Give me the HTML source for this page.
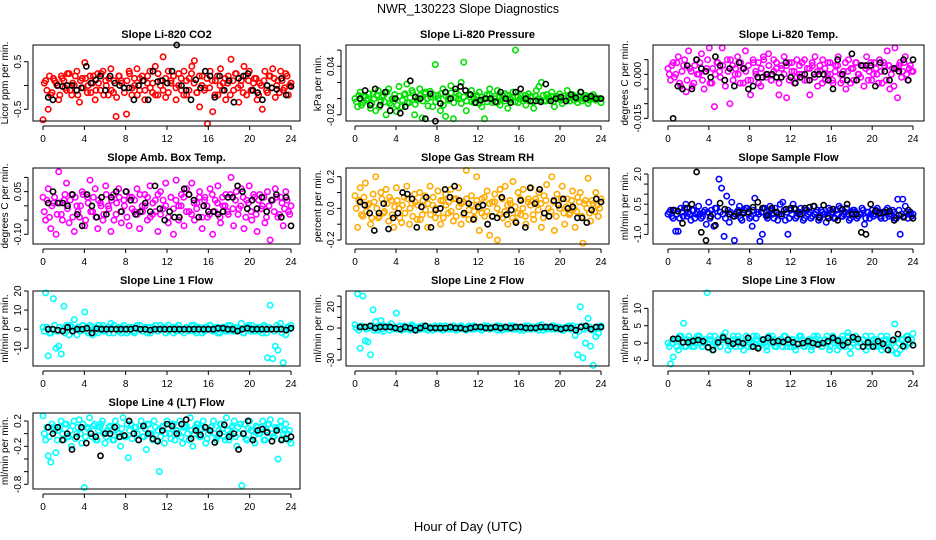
<!DOCTYPE html>
<html><head><meta charset="utf-8"><title>NWR_130223 Slope Diagnostics</title>
<style>
html,body{margin:0;padding:0;background:#fff;}
svg{display:block;font-family:"Liberation Sans",Arial,sans-serif;}
</style></head>
<body>
<svg id="chart" width="936" height="540" viewBox="0 0 936 540" xmlns="http://www.w3.org/2000/svg">
<rect x="0" y="0" width="936" height="540" fill="#fff"/>
<text x="468" y="13" text-anchor="middle" font-size="12.5">NWR_130223  Slope Diagnostics</text>
<text x="468" y="531" text-anchor="middle" font-size="13">Hour of Day (UTC)</text>
</svg>
<script>
const xTicks = [0,4,8,12,16,20,24];

const co2Vals = [-0.72,0.1,-0.5,-0.2,0.15,0.05,-0.3,0.2,0.1,-0.1,0.25,-0.2,0.0,0.3,-0.35,0.15,0.48,-0.15,0.2,0.05,-0.3,0.25,-0.1,0.3,0.1,-0.2,0.35,-0.15,-0.65,0.2,0.1,-0.05,-0.6,0.3,-0.2,0.15,0.35,-0.1,0.2,-0.3,0.05,0.3,-0.15,0.4,-0.2,0.1,0.6,-0.25,0.3,0.05,0.2,-0.3,0.25,-0.1,0.3,-0.2,0.15,0.4,0.52,-0.15,-0.45,0.2,-0.05,-0.8,0.3,-0.55,0.1,-0.2,0.35,0.05,-0.3,0.2,0.55,-0.1,0.25,-0.35,0.1,0.4,-0.2,0.3,-0.1,0.15,-0.3,0.05,-0.5,0.3,-0.15,0.2,0.35,-0.25,0.1,0.3,-0.1,0.25,-0.2,0.05];
const co2Vals2 = [0.05,-0.1,0.2,-0.15,0.1,0.0,-0.2,0.15,-0.05,0.25,-0.1,0.05,0.2,-0.2,0.1,-0.05,0.15,0.0,-0.15,0.2,-0.1,0.05,0.25,-0.2,0.0,0.15,-0.1,0.1,-0.25,0.2,0.05,-0.15,0.1,0.25,-0.05,0.0,-0.2,0.15,0.1,-0.1,0.2,-0.05,0.05,-0.2,0.25,0.0,-0.1,0.15,-0.15,0.1,0.2,-0.05,0.0,0.15,-0.2,0.1,-0.1,0.25,0.05,-0.15,0.2,0.0,-0.1,0.15,-0.05,0.1,-0.2,0.2,0.0,-0.1,0.15,0.05,-0.2,0.1,0.25,-0.05,0.0,-0.15,0.2,0.1,-0.1,0.05,0.15,-0.2,0.0,0.1,-0.1,0.2,-0.05,0.15,0.0,-0.15,0.1,-0.05,0.2,0.0];
const co2Black = [-0.25,-0.3,0.0,-0.02,0.0,0.0,-0.1,-0.05,0.4,0.05,0.12,0.2,-0.1,0.2,0.05,0.0,-0.05,-0.05,-0.3,0.0,0.1,-0.3,0.3,0.08,0.1,0.05,0.3,0.85,0.0,-0.1,-0.3,0.12,-0.05,0.3,0.2,-0.25,0.2,-0.1,0.1,-0.35,0.15,0.2,0.25,-0.1,-0.15,-0.3,0.0,-0.05,-0.08,0.15,-0.2,-0.02];

const presVals = [0.0,-0.01,0.008,-0.005,0.003,0.0,-0.012,0.006,-0.015,0.01,-0.003,0.004,-0.02,0.012,-0.008,0.0,-0.016,0.015,-0.01,0.005,0.018,-0.005,0.01,-0.02,-0.002,0.012,-0.024,0.006,0.0,0.009,-0.01,0.042,0.004,-0.015,0.012,-0.022,0.0,0.016,-0.025,0.008,0.0,0.02,0.045,-0.015,0.005,0.01,-0.005,0.002,0.008,-0.01,-0.025,0.005,0.012,-0.005,0.0,0.01,-0.008,0.004,0.006,-0.012,0.0,0.008,0.06,-0.005,0.004,0.0,-0.008,0.006,0.003,-0.012,0.01,0.015,0.02,-0.003,0.005,0.0,0.008,-0.01,0.003,0.006,-0.006,0.0,0.01,-0.003,0.005,0.002,-0.005,0.008,0.0,0.004,-0.006,0.002,0.005,-0.002,0.0,-0.005];
const presVals2 = [-0.004,0.004,-0.008,0.002,-0.002,0.006,-0.006,0.0,0.004,-0.01,0.002,-0.004,0.008,-0.006,0.0,0.005,-0.008,0.003,-0.002,0.006,-0.005,0.001,0.007,-0.007,0.0,0.004,-0.003,0.008,-0.009,0.002,0.005,-0.004,0.0,0.006,-0.008,0.003,-0.002,0.007,-0.005,0.001,0.004,-0.006,0.002,-0.003,0.006,-0.004,0.0,0.004,-0.006,0.002,0.0,-0.004,0.005,-0.002,0.003,-0.005,0.002,0.0,-0.003,0.004,-0.002,0.001,-0.004,0.003,0.0,-0.003,0.004,-0.001,0.002,-0.004,0.003,0.0,-0.002,0.004,-0.003,0.001,0.003,-0.004,0.002,0.0,-0.002,0.003,-0.003,0.001,0.002,-0.002,0.0,0.003,-0.003,0.001,0.002,-0.002,0.0,0.002,-0.001,0.0];
const presBlack = [0.0,0.01,-0.008,0.012,-0.008,0.008,-0.015,0.0,-0.018,-0.01,0.022,0.002,0.0,-0.025,0.006,-0.028,-0.006,0.008,0.0,0.012,0.015,0.01,0.005,-0.005,-0.002,0.0,0.0,-0.004,0.008,0.0,-0.005,0.008,0.012,0.0,-0.003,-0.003,-0.004,0.018,-0.003,0.0,0.002,-0.003,0.005,0.001,0.008,0.0,0.003,0.0,0.0];

const tempVals = [0.002,-0.002,0.004,0.0,0.006,-0.004,0.003,-0.006,0.008,0.001,-0.003,0.005,0.0,0.007,-0.005,0.002,0.009,-0.003,-0.011,0.004,0.001,0.009,-0.002,0.005,-0.01,0.003,0.0,0.006,-0.003,0.002,0.008,-0.002,-0.007,0.005,0.001,0.004,-0.004,0.006,0.0,0.007,-0.002,0.005,0.002,-0.007,0.003,0.006,-0.008,0.004,0.001,-0.003,0.005,0.0,0.004,-0.002,0.002,-0.007,0.003,0.006,-0.004,0.001,0.005,-0.002,0.004,0.0,-0.003,0.003,0.006,-0.003,0.001,-0.005,0.005,0.002,-0.002,0.004,0.0,0.003,-0.004,0.006,0.001,-0.002,0.004,0.0,0.005,-0.003,0.003,0.008,-0.005,0.002,0.009,-0.008,0.004,0.001,0.006,-0.002,0.003,0.001];
const tempVals2 = [0.0,0.003,-0.001,0.004,-0.003,0.001,0.005,-0.002,0.002,-0.004,0.003,0.0,0.004,-0.002,0.001,0.005,-0.003,0.002,0.0,0.004,-0.001,0.003,-0.004,0.001,0.005,-0.002,0.002,0.0,0.004,-0.003,0.001,0.003,-0.002,0.004,0.0,-0.003,0.002,0.005,-0.001,0.003,-0.002,0.001,0.004,-0.003,0.002,0.0,0.003,-0.002,0.004,0.001,-0.001,0.003,0.0,0.005,-0.002,0.002,0.004,-0.001,0.001,0.003,-0.003,0.002,0.0,0.004,-0.002,0.001,0.003,0.0,-0.002,0.004,0.001,-0.003,0.002,0.004,0.0,-0.001,0.003,0.002,-0.002,0.004,0.0,0.002,-0.003,0.001,0.004,-0.002,0.003,0.0,-0.004,0.002,0.003,-0.001,0.004,0.0,0.002,0.001];
const tempBlack = [-0.015,-0.004,-0.005,0.003,-0.005,0.005,0.002,0.001,-0.001,0.006,0.003,-0.002,0.002,-0.004,0.004,0.002,-0.005,-0.004,-0.001,-0.001,0.0,0.0,-0.001,-0.001,0.004,-0.001,-0.003,-0.001,0.0,-0.002,0.0,0.0,0.0,-0.002,-0.005,0.005,0.0,-0.002,0.007,-0.002,0.003,0.003,0.003,-0.004,0.004,0.001,-0.002,0.002,0.001,0.005,-0.002,0.005];

const ambVals = [0.03,-0.05,0.06,-0.08,0.01,-0.1,0.12,-0.03,0.02,0.08,-0.06,0.04,-0.09,0.0,-0.04,0.05,-0.07,0.03,0.09,-0.02,0.06,-0.08,0.01,-0.05,0.07,0.0,-0.09,0.04,-0.03,0.06,-0.06,0.02,0.05,-0.07,0.03,-0.02,0.06,-0.08,0.0,0.04,-0.05,0.07,-0.03,0.02,-0.09,0.05,-0.01,0.08,-0.06,0.03,-0.1,0.09,0.0,0.04,-0.07,0.06,-0.02,0.08,-0.05,0.01,0.05,-0.08,0.03,-0.04,0.06,-0.1,0.02,0.07,-0.06,0.0,0.04,-0.03,0.1,-0.07,0.05,-0.01,0.06,-0.08,0.02,0.07,-0.05,0.03,-0.09,0.04,0.0,-0.06,0.05,-0.12,0.02,0.06,-0.04,0.03,-0.07,0.05,-0.02,0.0];
const ambVals2 = [-0.02,0.02,-0.04,0.0,0.03,-0.03,0.01,-0.05,0.04,-0.01,0.02,-0.04,0.03,-0.02,0.0,0.04,-0.05,0.01,-0.02,0.03,-0.04,0.02,0.0,-0.03,0.04,-0.01,0.02,-0.05,0.01,0.03,-0.02,0.0,-0.04,0.03,-0.01,0.02,-0.03,0.04,-0.02,0.0,0.03,-0.04,0.01,-0.02,0.04,-0.03,0.02,0.0,-0.04,0.03,-0.01,0.02,-0.05,0.0,0.03,-0.02,0.04,-0.03,0.01,-0.01,0.03,-0.04,0.02,0.0,-0.03,0.04,-0.02,0.01,-0.04,0.03,0.0,-0.02,0.04,-0.01,0.02,-0.03,0.0,0.03,-0.04,0.01,-0.02,0.04,-0.03,0.02,-0.01,0.03,-0.04,0.0,0.02,-0.02,0.03,-0.03,0.01,-0.01,0.02,-0.03];
const ambBlack = [0.01,0.05,0.01,0.01,0.0,0.04,-0.03,-0.07,0.04,0.0,-0.04,0.03,-0.03,0.03,0.05,-0.02,0.05,0.02,-0.03,-0.02,0.01,-0.02,0.07,-0.01,-0.05,-0.02,-0.04,-0.04,0.06,0.04,0.02,-0.04,0.0,-0.02,-0.02,-0.03,-0.02,0.03,0.03,0.07,0.05,-0.01,0.02,-0.01,0.03,-0.02,0.02,0.04,-0.04,0.03,-0.07];

const rhVals = [0.08,-0.12,0.13,-0.05,0.16,0.02,-0.1,0.09,0.2,-0.06,0.1,-0.03,0.12,-0.08,0.05,-0.12,0.13,0.0,-0.09,0.07,0.14,-0.1,0.03,0.09,-0.07,0.1,-0.04,0.08,-0.12,0.14,0.02,-0.06,0.11,-0.1,0.05,0.09,-0.03,0.12,-0.08,0.06,0.13,-0.1,0.04,0.24,-0.07,0.08,-0.02,0.2,-0.14,0.06,-0.05,0.11,-0.17,0.04,0.09,-0.2,0.12,-0.06,0.14,-0.1,0.03,0.17,-0.08,0.1,-0.04,0.12,-0.1,0.06,0.13,-0.07,0.04,0.1,-0.12,0.08,0.15,-0.05,0.2,-0.14,0.09,0.0,0.14,-0.1,0.06,-0.03,0.11,-0.12,0.07,0.1,-0.22,0.05,0.19,-0.08,0.03,0.1,-0.05,0.06];
const rhVals2 = [0.0,0.05,-0.04,0.07,-0.02,0.03,-0.06,0.04,0.0,-0.05,0.06,-0.02,0.03,0.07,-0.04,0.01,0.05,-0.06,0.02,-0.03,0.06,0.0,-0.05,0.04,0.02,-0.07,0.05,-0.01,0.03,-0.04,0.07,0.0,-0.03,0.05,-0.06,0.02,0.04,-0.02,0.06,-0.05,0.01,0.03,-0.04,0.06,-0.01,0.02,-0.06,0.05,0.0,-0.03,0.07,-0.02,0.03,-0.05,0.04,0.0,-0.04,0.06,-0.02,0.02,0.05,-0.06,0.01,-0.03,0.06,0.0,-0.05,0.04,0.02,-0.04,0.06,-0.01,0.03,-0.06,0.05,0.0,-0.02,0.04,-0.05,0.02,0.06,-0.03,0.01,-0.04,0.05,0.0,-0.02,0.04,-0.05,0.03,0.0,-0.03,0.05,-0.02,0.02,0.0];
const rhBlack = [0.04,0.02,-0.03,-0.14,-0.03,0.03,-0.13,-0.06,-0.03,0.1,0.09,0.06,-0.12,0.01,0.07,-0.12,-0.01,0.0,0.12,0.07,0.14,0.05,-0.03,0.03,-0.07,0.01,0.02,-0.1,-0.05,-0.06,0.07,-0.04,-0.01,-0.09,0.05,-0.12,0.13,0.03,0.12,-0.03,-0.05,0.05,0.02,0.06,0.0,0.01,-0.06,-0.06,-0.09,-0.01,0.06,0.04];

const sfVals = [0.0,0.2,-0.2,-0.85,-0.85,0.3,-0.1,0.5,0.1,-0.3,0.2,0.0,0.4,-0.2,0.1,-0.5,0.6,0.2,-0.6,0.3,1.75,1.3,-1.1,0.9,-0.4,0.6,-1.3,0.1,0.4,-0.3,0.2,0.3,-0.2,-0.6,0.8,0.1,-1.35,-1.0,0.3,-0.2,0.4,0.0,0.3,-0.3,0.5,0.6,-0.3,-1.0,0.2,0.5,-0.2,0.1,0.3,-0.3,0.2,0.0,-0.2,0.4,0.1,-0.3,0.2,0.0,-0.4,0.3,0.1,-0.2,0.2,0.4,-0.1,0.0,0.3,-0.3,0.1,0.2,-0.2,0.0,0.3,-0.5,0.1,-0.2,0.2,0.0,0.3,-0.1,0.1,-0.2,0.3,0.0,0.2,-0.2,0.75,-1.0,0.75,0.4,-0.2,0.1,0.0];
const sfVals2 = [0.1,-0.1,0.2,0.0,-0.2,0.1,0.3,-0.1,0.0,0.2,-0.2,0.1,0.0,-0.1,0.2,0.1,-0.2,0.0,0.3,-0.1,0.1,0.0,-0.2,0.2,0.1,-0.1,0.0,0.2,-0.2,0.1,0.3,0.0,-0.1,0.2,-0.2,0.0,0.1,0.3,-0.1,0.0,0.2,-0.2,0.1,0.0,-0.1,0.2,0.1,-0.2,0.0,0.3,-0.1,0.1,0.0,-0.2,0.2,0.1,-0.1,0.0,0.2,-0.2,0.1,0.0,-0.1,0.2,0.1,-0.2,0.0,0.3,-0.1,0.1,0.0,-0.2,0.2,0.1,-0.1,0.0,0.2,-0.2,0.1,0.0,-0.1,0.2,0.0,-0.2,0.1,0.2,-0.1,0.0,0.1,-0.2,0.2,0.0,-0.1,0.1,0.0,-0.1];
const sfBlack = [0.2,0.15,-0.45,0.3,0.5,2.1,-0.9,-1.3,-0.1,-0.55,0.55,0.25,0.0,-0.1,0.1,0.05,0.1,0.35,0.6,0.3,-0.05,0.3,0.1,0.0,0.25,0.3,0.25,0.0,0.3,0.35,0.4,-0.15,0.45,-0.2,0.25,-0.3,0.25,0.5,0.0,0.0,-0.9,-1.0,0.5,0.15,0.05,0.1,0.15,-0.3,-0.05,-0.15,0.2,-0.2];

const l1Vals = [1,19,-14,-2,16,-10,-9,-13,12,2,-3,1,5,-3,0,2,9,-1,2,-3,1,-2,0,2,-1,1,3,-2,0,1,-2,2,0,-1,1,-2,2,0,-1,1,-2,1,0,2,-1,0,1,-2,2,0,1,-1,2,0,-2,1,0,2,-1,1,0,-2,1,0,2,-1,1,-2,0,1,-1,2,0,-1,1,0,3,-2,1,0,2,-1,0,1,-2,1,-15,12.5,-15.5,-9,-11,3,-17.5,-3,1,2];
const l1Vals2 = [-1,1,-2,0,2,-1,1,0,-2,1,2,-1,0,1,-1,2,0,-2,1,0,-1,2,1,-1,0,-2,1,2,0,-1,1,0,-2,1,1,-1,0,2,-1,0,1,-2,1,0,-1,2,0,1,-1,0,-2,1,2,-1,0,1,-1,0,2,-2,1,0,-1,1,2,0,-1,1,-2,0,1,-1,2,0,-1,1,0,-2,1,2,-1,0,1,-1,0,2,-2,1,0,-1,2,1,-2,0,1,0];
const l1Black = [0,0,-0.5,-1,1,-1,0,0,0.5,-2,0.3,0,0,0,0,0,0,0,0.5,0,0,-0.5,0,0,0,0,0,0,0,0,0,0,0,0,0,0.5,0.5,0,0,-1,0,0.5,0,0,0,0,0,0,0,-0.5,0.5];

const l2Vals = [3,32,-19,30,-12,-13,-25,17,6,-2,7,-3,1,2,4,-1,14,1,-2,2,0,-1,3,1,-2,0,2,-1,1,0,-2,2,1,-1,0,2,-1,1,0,-2,1,2,-1,0,1,-1,2,0,-1,1,0,2,-1,0,1,-2,2,0,1,-1,0,2,-1,1,0,-2,1,2,-1,0,1,-2,3,0,-1,1,2,-1,0,1,-2,0,1,-1,2,-7,-25,20,-28,-14,9,-17,-35,-8,-5,2];
const l2Vals2 = [0,-2,2,1,-1,0,2,-2,1,0,-1,2,1,-2,0,1,-1,2,0,-1,1,-2,2,0,1,-1,0,2,-2,1,0,-1,1,2,-2,0,1,-1,2,0,-1,1,0,-2,2,1,-1,0,1,-2,2,0,-1,1,0,2,-1,-2,1,0,2,-1,1,0,-2,1,2,-1,0,1,-1,2,0,-2,1,0,-1,2,1,-1,0,-2,1,2,0,-1,1,-3,2,-1,0,1,-2,0,1,0];
const l2Black = [1,1,2,0,1,1,1,0,-1,1,0,-2,0,2,0,0,0,0,1,0,0,-1,0,1,1,0,0,1,0,1,0,1,1,0,0,0,1,1,1,0,-1,0,0,-2,1,2,-1,1,1];

const l3Vals = [0,-6,-4,1,-2,2,5.7,-1,2,0,-1,1,2,-1,0,14.5,1,-2,2,0,-1,1,3,-2,0,2,-1,1,0,-2,2,1,-1,0,2,-1,1,0,-2,1,2,-1,0,1,-1,2,0,-1,1,-2,0,2,-1,0,1,-2,2,0,1,-1,0,2,-2,1,0,-2,1,2,-1,3,-3,1,2,-1,0,1,-2,0,2,-1,1,0,-2,1,2,-1,0,5.5,-3,-2,1,-1,2,0,2.7];
const l3Vals2 = [-1,0,1,-1,2,0,-1,1,0,-1,1,2,0,-1,1,0,2,-1,0,1,-1,2,1,0,-1,1,0,2,-1,0,1,-1,0,2,1,-1,0,1,-1,2,0,1,-1,0,1,2,-1,0,1,-1,0,2,1,-1,0,1,-1,1,2,0,-1,1,0,-1,2,1,0,-1,1,0,2,-1,0,1,-1,0,1,2,-1,0,1,-1,0,2,-1,1,0,-2,1,-3,0,1,-1,2,0,1];
const l3Black = [1.2,1.3,0.2,0.2,0.6,0.9,0.5,-1.2,-2,0.2,1.6,0.6,-0.2,0.3,-0.1,1.5,-1,-1.5,1,1.5,0.3,0.6,0.3,1,0.2,-0.3,0,0.5,0,-0.4,0,0.5,1.5,0.7,-0.6,0.2,1.7,1.2,-1,0.2,-1,0.5,-0.2,-2,0.9,2.6,-0.9,1,-0.6];

const l4Vals = [0.28,-0.1,-0.35,-0.45,0.1,-0.3,0.05,0.2,-0.1,0.15,-0.05,-0.2,0.2,0.0,0.22,-0.15,-0.85,0.1,0.25,-0.05,0.15,-0.1,0.1,0.2,-0.15,0.05,0.12,-0.1,0.2,0.0,-0.2,0.25,-0.05,-0.38,0.15,0.0,0.1,-0.1,0.2,-0.05,-0.25,0.15,0.0,0.2,-0.1,-0.6,0.1,-0.15,0.2,0.0,0.15,-0.1,0.05,0.2,-0.15,0.1,0.0,0.25,-0.2,0.1,0.15,-0.05,0.2,-0.15,0.0,0.1,0.2,-0.1,0.05,0.15,-0.05,0.25,-0.1,0.1,0.2,-0.2,0.0,-0.82,0.15,-0.1,0.2,0.05,-0.15,0.1,0.0,0.2,-0.1,0.15,0.22,-0.05,0.1,-0.4,0.2,0.0,0.15,-0.1,-0.15];
const l4Vals2 = [0.0,0.1,-0.05,0.15,0.05,-0.1,0.1,0.0,0.15,-0.05,0.05,0.12,-0.08,0.1,0.0,0.15,-0.05,0.08,0.0,0.12,-0.1,0.05,0.15,0.0,-0.05,0.1,0.05,-0.1,0.12,0.0,0.08,-0.05,0.15,0.05,-0.08,0.1,0.0,0.12,-0.05,0.08,0.15,0.0,-0.1,0.1,0.05,-0.05,0.12,0.0,0.08,-0.08,0.15,0.05,0.0,-0.05,0.1,0.12,-0.1,0.05,0.0,0.15,-0.05,0.08,0.1,-0.08,0.05,0.12,0.0,-0.05,0.15,0.08,-0.1,0.05,0.0,0.12,-0.05,0.1,0.15,0.0,-0.08,0.08,0.05,-0.05,0.12,0.0,0.1,-0.1,0.05,0.15,0.0,-0.05,0.08,0.1,-0.08,0.05,0.0,0.05];
const l4Black = [0.1,0.0,0.1,-0.1,0.0,-0.25,-0.05,0.1,-0.15,0.0,-0.05,-0.35,0.0,0.0,0.1,-0.05,-0.03,0.2,0.0,-0.1,0.12,0.0,-0.08,-0.12,0.05,0.15,0.12,0.0,0.15,0.22,-0.08,0.05,-0.02,0.1,0.05,-0.14,0.0,0.14,-0.05,0.0,-0.25,0.0,0.2,-0.1,0.05,0.07,0.02,-0.12,0.05,-0.1,-0.08,-0.05];

const panelTitles = ["Slope Li-820 CO2","Slope Li-820 Pressure","Slope Li-820 Temp.","Slope Amb. Box Temp.","Slope Gas Stream RH","Slope Sample Flow","Slope Line 1 Flow","Slope Line 2 Flow","Slope Line 3 Flow","Slope Line 4 (LT) Flow"];
const yTitles = ["Licor ppm per min.","kPa per min.","degrees C per min.","degrees C per min.","percent per min.","ml/min per min.","ml/min per min.","ml/min per min.","ml/min per min.","ml/min per min."];
const yTickVals = [[-0.5,0,0.5],[-0.02,0,0.02,0.04,0.06],[-0.015,-0.01,-0.005,0,0.005],[-0.1,-0.05,0,0.05,0.1],[-0.2,-0.1,0,0.1,0.2],[-1,-0.5,0,0.5,1,1.5,2],[-10,0,10,20],[-30,-20,-10,0,10,20,30],[-5,0,5,10],[-0.8,-0.6,-0.4,-0.2,0,0.2]];
const yTickLabels = [["-0.5","","0.5"],["-0.02","","","0.04",""],["-0.015","","","0.000",""],["-0.10","","","0.05",""],["-0.2","","0.0","","0.2"],["-1.0","","","0.5","","","2.0"],["-10","0","10","20"],["-30","","","0","","20",""],["-5","0","5","10"],["-0.8","","","-0.2","","0.2"]];
const yLims = [[-0.745,0.85],[-0.0277,0.0663],[-0.0159,0.010],[-0.134,0.133],[-0.225,0.255],[-1.48,2.3],[-19.3,20],[-35.6,34.7],[-6.6,15],[-0.874,0.326]];
const seriesVals = [co2Vals,presVals,tempVals,ambVals,rhVals,sfVals,l1Vals,l2Vals,l3Vals,l4Vals];
const seriesVals2 = [co2Vals2,presVals2,tempVals2,ambVals2,rhVals2,sfVals2,l1Vals2,l2Vals2,l3Vals2,l4Vals2];
const seriesBlack = [co2Black,presBlack,tempBlack,ambBlack,rhBlack,sfBlack,l1Black,l2Black,l3Black,l4Black];

const colors = ["#ff0000","#00e000","#ff00ff","#ff00ff","#ffaa00","#0000ff","#00ffff","#00ffff","#00ffff","#00ffff"];
const cols = [{l:33,r:300,x0:43,x24:291},{l:346,r:609,x0:355,x24:601},{l:653,r:924,x0:668,x24:913}];
const rows = [{t:45,b:121},{t:168,b:244},{t:291,b:366},{t:413,b:489}];
const NS = "http://www.w3.org/2000/svg";
const svg = document.getElementById('chart');
function mk(tag, attrs, parent){const e=document.createElementNS(NS,tag);for(const k in attrs)e.setAttribute(k,attrs[k]);(parent||svg).appendChild(e);return e;}

seriesVals.forEach((vals,p)=>{
  const c = cols[p%3], rw = rows[Math.floor(p/3)];
  const g = mk('g',{});
  
  
  const xS = h => c.x0 + (c.x24-c.x0)*h/24;
  const [lo,hi] = yLims[p];
  const yS = v => rw.b - (v-lo)/(hi-lo)*(rw.b-rw.t);
  const pts = mk('g',{fill:'none','stroke-width':'1.6'},g);
  
  
  const n = vals.length;
  vals.forEach((v,i)=>{
    const h = i*24/(n-1);
    const cc = mk('circle',{cx:xS(h).toFixed(1),cy:yS(v).toFixed(1),r:2.7,stroke:colors[p]},pts);
    
    
  });
  const v2 = seriesVals2[p], n2 = v2.length;
  v2.forEach((v,i)=>{
    const h = (i+0.5)*24/n2;
    const cc = mk('circle',{cx:xS(h).toFixed(1),cy:yS(v).toFixed(1),r:2.7,stroke:colors[p]},pts);
    
    
  });
  const bl = seriesBlack[p], nb = bl.length;
  bl.forEach((v,i)=>{
    const h = 0.5 + i*23.5/(nb-1);
    const cc = mk('circle',{cx:xS(h).toFixed(1),cy:yS(v).toFixed(1),r:2.6,stroke:'#000'},pts);
    
    
  });
  const box = mk('rect',{x:c.l,y:rw.t,width:c.r-c.l,height:rw.b-rw.t,fill:'none',stroke:'#000','stroke-width':1},g);
  
  
  const t = mk('text',{x:(c.l+c.r)/2,y:rw.t-7,'text-anchor':'middle','font-size':'11','font-weight':'bold'},g);
  t.textContent = panelTitles[p];
  
  
  const ay = rw.b+5;
  const xa = mk('g',{stroke:'#000','stroke-width':1},g);
  
  
  mk('line',{x1:xS(0),x2:xS(24),y1:ay,y2:ay},xa);
  xTicks.forEach(h=>{
    mk('line',{x1:xS(h),x2:xS(h),y1:ay,y2:ay+4},xa);
    const tl = mk('text',{x:xS(h),y:ay+16,'text-anchor':'middle','font-size':'10',stroke:'none',fill:'#000'},xa);
    tl.textContent = String(h);
    
    
  });
  const ax = c.l-5;
  const ya = mk('g',{stroke:'#000','stroke-width':1},g);
  
  
  const tv = yTickVals[p];
  mk('line',{x1:ax,x2:ax,y1:yS(tv[0]),y2:yS(tv[tv.length-1])},ya);
  tv.forEach((v,i)=>{
    const yy = yS(v);
    mk('line',{x1:ax,x2:ax-4,y1:yy,y2:yy},ya);
    if(yTickLabels[p][i]){
      const tl = mk('text',{x:ax-7,y:yy,'text-anchor':'middle','font-size':'10',stroke:'none',fill:'#000',transform:`rotate(-90 ${ax-7} ${yy})`},ya);
      tl.textContent = yTickLabels[p][i];
      
      
    }
  });
  const cy = (rw.t+rw.b)/2, tx = c.l-25;
  const yt = mk('text',{x:tx,y:cy,'text-anchor':'middle','font-size':'10',transform:`rotate(-90 ${tx} ${cy})`},g);
  yt.textContent = yTitles[p];
  
  
});
</script>
</body></html>
